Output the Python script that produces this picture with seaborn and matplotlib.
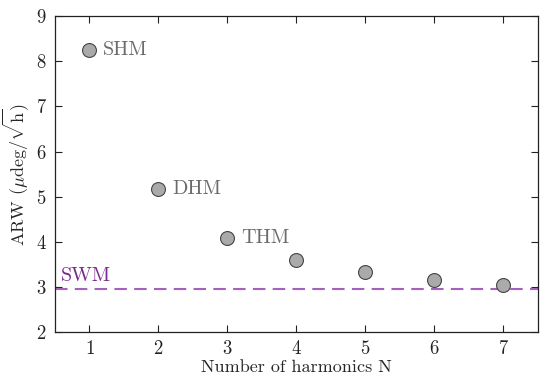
import matplotlib
matplotlib.use("Agg")
import matplotlib.pyplot as plt
import seaborn as sns
import pandas as pd

# Data
harmonics = [1, 2, 3, 4, 5, 6, 7]
arw_values = [8.25, 5.17, 4.09, 3.59, 3.32, 3.15, 3.05]
point_labels = ["SHM", "DHM", "THM", "", "", "", ""]
swm_level = 2.95

df = pd.DataFrame({"N": harmonics, "ARW": arw_values})

sns.set_theme(style="ticks")
plt.rcParams["font.family"] = ["cmr10", "DejaVu Serif"]
plt.rcParams["mathtext.fontset"] = "cm"
plt.rcParams["axes.formatter.use_mathtext"] = True

fig, ax = plt.subplots(figsize=(5.5, 3.86), dpi=100)

# SWM reference level
ax.axhline(swm_level, color="#a660bd", lw=1.5, dashes=(6, 3.5))
ax.text(0.58, swm_level + 0.08, "SWM", color="#7a2a8e", fontsize=14.5, va="bottom")

sns.scatterplot(data=df, x="N", y="ARW", ax=ax, s=100, color="#aaaaaa",
                edgecolor="#454545", linewidth=0.8, zorder=3)

for n, v, lab in zip(harmonics, arw_values, point_labels):
    if lab:
        ax.text(n + 0.2, v, lab, color="#6b6b6b", fontsize=14.5, va="center")

ax.set_xlim(0.5, 7.5)
ax.set_ylim(2, 9)
ax.set_xticks(harmonics)
ax.set_yticks(range(2, 10))
ax.tick_params(direction="in", top=True, right=True, labeltop=False,
               labelright=False, labelsize=13.5, length=5, width=0.8,
               colors="#222222", pad=6)
for sp in ax.spines.values():
    sp.set_linewidth(0.9)
    sp.set_color("#222222")
    sp.set_visible(True)

ax.set_xlabel("Number of harmonics N", fontsize=13, labelpad=1)
ax.set_ylabel(r"ARW ($\mu$deg/$\sqrt{\mathrm{h}}$)", fontsize=13, labelpad=3)

fig.subplots_adjust(left=0.1, right=0.978, top=0.958, bottom=0.14)
fig.savefig("out.png", dpi=100)
plt.close(fig)
